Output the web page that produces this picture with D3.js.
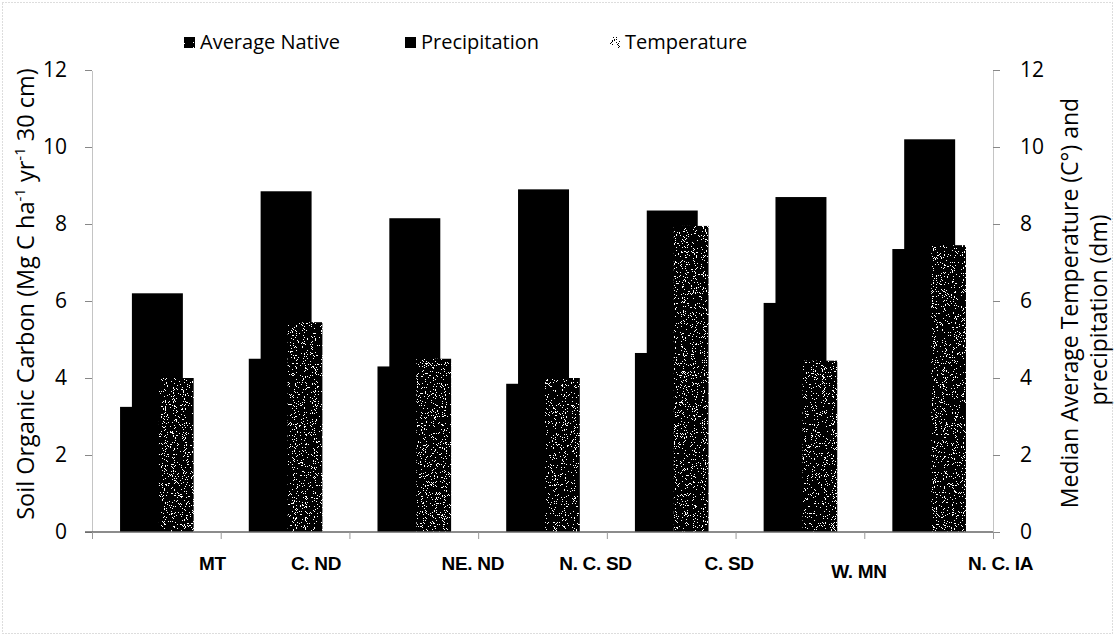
<!DOCTYPE html>
<html>
<head>
<meta charset="utf-8">
<script src="https://cdn.jsdelivr.net/npm/d3@7"></script>
<style>
body { margin: 0; background: #fff; }
text { font-family: "Open Sans", sans-serif; fill: #000; }
</style>
</head>
<body>
<svg id="chart"></svg>
<script>
// podaci ocitani sa slike
const regions = ["MT", "C. ND", "NE. ND", "N. C. SD", "C. SD", "W. MN", "N. C. IA"];
const nativeSoc = [3.25, 4.5, 4.3, 3.85, 4.65, 5.95, 7.35];
const precipitation = [6.2, 8.85, 8.15, 8.9, 8.35, 8.7, 10.2];
const temperature = [4.0, 5.45, 4.5, 4.0, 7.95, 4.45, 7.45];
const yTicks = [0, 2, 4, 6, 8, 10, 12];

const width = 1115, height = 636;
const plotLeft = 92, plotRight = 993, plotTop = 70, plotBottom = 532;

const svg = d3.select("#chart").attr("width", width).attr("height", height);
svg.append("rect").attr("width", width).attr("height", height).attr("fill", "#fff");

// zrnata tekstura (sken) za temperaturu
const defs = svg.append("defs");
function speckle(id, ones, total, freq) {
    const f = defs.append("filter").attr("id", id)
        .attr("x", 0).attr("y", 0).attr("width", 1).attr("height", 1)
        .attr("color-interpolation-filters", "sRGB");
    f.append("feTurbulence").attr("type", "fractalNoise").attr("baseFrequency", freq)
        .attr("numOctaves", 2).attr("seed", 4).attr("result", "n");
    f.append("feColorMatrix").attr("in", "n").attr("type", "matrix")
        .attr("values", "0 0 0 0 0  0 0 0 0 0  0 0 0 0 0  1 0 0 0 0").attr("result", "a");
    const table = d3.range(total).map(i => i < ones ? 1 : 0).join(" ");
    f.append("feComponentTransfer").attr("in", "a").attr("result", "t")
        .append("feFuncA").attr("type", "discrete").attr("tableValues", table);
    f.append("feFlood").attr("flood-color", "#fff").attr("result", "w");
    const m = f.append("feMerge").attr("result", "m");
    m.append("feMergeNode").attr("in", "w");
    m.append("feMergeNode").attr("in", "t");
    f.append("feComposite").attr("in", "m").attr("in2", "SourceAlpha").attr("operator", "in");
}
speckle("speckle", 13, 20, 1.1);
speckle("speckleDark", 14, 20, 1.1);
speckle("speckleLight", 7, 20, 1.1);

const x = d3.scaleBand().domain(regions).range([plotLeft, plotRight]);
const bw = x.bandwidth();
const y = d3.scaleLinear().domain([0, 12]).range([plotBottom, plotTop]);
const y2 = d3.scaleLinear().domain([0, 12]).range([plotBottom, plotTop]);

// raspored stupaca unutar kategorije (udio sirine)
const series = [
    { values: nativeSoc, scale: y, off: 0.218, w: 0.27, fill: "#000", filter: null },
    { values: precipitation, scale: y2, off: 0.31, w: 0.396, fill: "#000", filter: null },
    { values: temperature, scale: y2, off: 0.52, w: 0.27, fill: "#000", filter: "url(#speckle)" }
];

series.forEach(s => {
    svg.append("g").selectAll("rect")
        .data(regions)
        .enter()
        .append("rect")
        .attr("x", (d, i) => x(d) + s.off * bw)
        .attr("y", (d, i) => s.scale(s.values[i]))
        .attr("width", s.w * bw)
        .attr("height", (d, i) => plotBottom - s.scale(s.values[i]))
        .attr("fill", s.fill)
        .attr("filter", s.filter);
});

// osi
const yLeft = svg.append("g")
    .attr("transform", "translate(" + plotLeft + ",0)")
    .call(d3.axisLeft(y).tickValues(yTicks).tickSize(7).tickSizeOuter(0).tickPadding(18));
const yRight = svg.append("g")
    .attr("transform", "translate(" + plotRight + ",0)")
    .call(d3.axisRight(y2).tickValues(yTicks).tickSize(7).tickSizeOuter(0).tickPadding(20));
[yLeft, yRight].forEach(a => {
    a.select(".domain").attr("stroke", "#888").attr("stroke-dasharray", "1,1");
    a.selectAll(".tick line").attr("stroke", "#888");
    a.selectAll(".tick text").style("font-size", "21px").attr("fill", "#000");
});

const xTick = d3.scaleLinear().domain([0, regions.length]).range([plotLeft, plotRight]);
const xAxis = svg.append("g")
    .attr("transform", "translate(0," + plotBottom + ")")
    .call(d3.axisBottom(xTick).tickValues(d3.range(regions.length + 1)).tickSize(7).tickSizeOuter(0).tickFormat(""));
xAxis.select(".domain").attr("stroke", "#666").attr("stroke-width", 1.5).attr("d", "M" + (plotLeft - 7) + ",0H" + plotRight);
xAxis.selectAll(".tick line").attr("stroke", "#999");

// nazivi kategorija - na slici pomaknuti udesno
const labelShift = [56, 31, 59, 53, 58, 59, 72];
const labelDrop = [0, 0, 0, 0, 0, 8, 0];
svg.append("g").selectAll("text")
    .data(regions)
    .enter()
    .append("text")
    .attr("x", (d, i) => x(d) + bw / 2 + labelShift[i])
    .attr("y", (d, i) => 570 + labelDrop[i])
    .attr("text-anchor", "middle")
    .style("font-family", "'Liberation Sans Narrow', 'Liberation Sans', Arial, sans-serif")
    .style("font-weight", "bold")
    .style("font-size", "19px")
    .style("letter-spacing", "-0.3px")
    .text(d => d);

// naslovi osi
const leftTitle = svg.append("text")
    .attr("transform", "translate(34,294) rotate(-90)")
    .attr("text-anchor", "middle")
    .style("font-size", "23.5px");
leftTitle.append("tspan").text("Soil Organic Carbon (Mg C ha");
leftTitle.append("tspan").attr("dy", -9).style("font-size", "15px").text("-1");
leftTitle.append("tspan").attr("dy", 9).text(" yr");
leftTitle.append("tspan").attr("dy", -9).style("font-size", "15px").text("-1");
leftTitle.append("tspan").attr("dy", 9).text(" 30 cm)");

svg.append("text")
    .attr("transform", "translate(1078,303) rotate(-90)")
    .attr("text-anchor", "middle")
    .style("font-size", "23px")
    .text("Median Average Temperature (C°) and");
svg.append("text")
    .attr("transform", "translate(1107,310) rotate(-90)")
    .attr("text-anchor", "middle")
    .style("font-size", "23px")
    .text("precipitation (dm)");

// legenda
const legendData = [
    { label: "Average Native", fill: "#000", filter: "url(#speckleDark)", x: 184 },
    { label: "Precipitation", fill: "#000", filter: null, x: 405 },
    { label: "Temperature", fill: "#000", filter: "url(#speckleLight)", x: 609 }
];
const legend = svg.append("g");
legend.selectAll("rect")
    .data(legendData)
    .enter()
    .append("rect")
    .attr("x", d => d.x)
    .attr("y", 37)
    .attr("width", 11)
    .attr("height", 11)
    .attr("fill", d => d.fill)
    .attr("filter", d => d.filter);
legend.selectAll("text")
    .data(legendData)
    .enter()
    .append("text")
    .attr("x", d => d.x + 16)
    .attr("y", 49)
    .style("font-size", "20px")
    .text(d => d.label);

// okvir
svg.append("rect")
    .attr("x", 2.5).attr("y", 2.5)
    .attr("width", width - 5).attr("height", height - 5)
    .attr("fill", "none")
    .attr("stroke", "#bbb")
    .attr("stroke-dasharray", "1,2");
</script>
</body>
</html>
